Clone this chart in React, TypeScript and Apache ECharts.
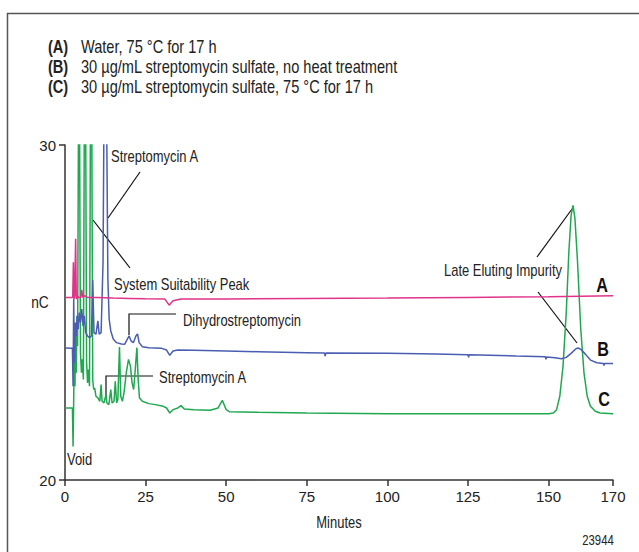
import React, { useEffect, useRef } from "react";
import * as echarts from "echarts";

const xTicks = [0, 25, 50, 75, 100, 125, 150, 170];
const yTicks = [20, 30];
const seriesNames = ["A", "B", "C"];
const legendKeys = ["(A)", "(B)", "(C)"];
const legendTexts = [
  "Water, 75 °C for 17 h",
  "30 µg/mL streptomycin sulfate, no heat treatment",
  "30 µg/mL streptomycin sulfate, 75 °C for 17 h",
];

const traceA: [number, number][] = [
  [0, 25.45], [2.4, 25.45], [2.6, 26.5], [2.8, 25.4], [3.0, 25.5], [3.3, 27.2], [3.5, 25.4],
  [3.8, 25.5], [4.3, 25.45], [4.9, 25.45], [5.2, 25.68], [5.5, 25.45], [6.0, 25.5], [7, 25.45],
  [10, 25.45], [15, 25.43], [20, 25.42], [25, 25.41], [31, 25.4], [32.3, 25.22], [33.5, 25.35],
  [36, 25.4], [50, 25.4], [75, 25.42], [100, 25.43], [125, 25.45], [150, 25.47], [170, 25.5],
];

const traceB: [number, number][] = [
  [0, 23.94], [2.3, 23.93], [2.5, 22.8], [2.7, 25.4], [2.9, 23.5], [3.2, 24.7], [3.5, 24.3],
  [3.8, 24.9], [4.1, 24.5], [4.4, 25.0], [4.8, 24.7], [5.2, 25.1], [5.6, 24.6], [6.0, 24.9],
  [6.4, 24.4], [7.0, 24.3], [7.6, 24.25], [8.2, 24.3], [8.6, 25.97], [9.0, 24.4], [9.6, 24.35],
  [10.2, 24.75], [10.6, 24.35], [11.2, 24.4], [11.8, 26.5], [12.1, 31], [12.5, 32], [12.9, 31],
  [13.3, 26], [13.7, 24.8], [14.2, 24.45], [15, 24.2], [16, 24.1], [17.5, 24.06], [18.5, 24.05],
  [19.3, 24.2], [19.9, 24.3], [20.5, 24.15], [21.2, 24.1], [22.0, 24.3], [22.5, 24.36], [23.0, 24.1],
  [24, 23.98], [26, 23.95], [30, 23.93], [31.5, 23.88], [32.5, 23.72], [33.5, 23.85], [35, 23.88],
  [40, 23.87], [50, 23.85], [60, 23.83], [75, 23.8], [80.5, 23.79], [80.7, 23.7], [80.9, 23.79],
  [100, 23.78], [115, 23.76], [125, 23.74], [125.2, 23.66], [125.4, 23.74], [140, 23.7],
  [149, 23.68], [149.2, 23.6], [149.4, 23.67], [152, 23.65], [154, 23.62], [155.5, 23.66],
  [157, 23.78], [158.5, 23.92], [159.2, 23.94], [160, 23.9], [161.5, 23.75], [163, 23.58],
  [165, 23.5], [167, 23.48], [167.2, 23.42], [167.4, 23.48], [170, 23.48],
];

const traceC: [number, number][] = [
  [0, 22.15], [2.3, 22.15], [2.5, 21.0], [2.7, 22.4], [2.9, 24.0], [3.1, 22.8], [3.3, 24.6],
  [3.5, 23.2], [3.7, 24.9], [3.9, 24.0], [4.2, 31], [4.5, 31], [4.8, 23.8], [5.1, 23.2],
  [5.4, 23.6], [5.7, 23.0], [6.0, 31], [6.4, 31], [6.7, 23.5], [7.0, 22.9], [7.3, 23.3],
  [7.6, 22.8], [7.9, 31], [8.3, 31], [8.6, 23.0], [8.9, 22.7], [9.2, 22.75], [9.6, 22.5],
  [10.2, 22.45], [10.8, 22.35], [11.2, 22.85], [11.5, 22.35], [12.1, 22.3], [12.7, 22.55],
  [13.0, 22.3], [13.6, 22.25], [14.2, 22.7], [14.6, 22.3], [15.2, 22.35], [15.6, 22.95],
  [16.0, 22.3], [16.4, 22.4], [16.9, 23.97], [17.3, 22.5], [17.8, 22.35], [18.3, 22.6],
  [19.0, 23.2], [19.7, 23.6], [20.3, 23.4], [20.8, 22.9], [21.3, 22.7], [21.8, 23.3],
  [22.3, 23.95], [22.7, 23.0], [23.1, 22.45], [24, 22.35], [26, 22.28], [28, 22.25],
  [30.5, 22.2], [31.5, 22.15], [32.5, 22.0], [33.5, 22.1], [35, 22.15], [36, 22.22],
  [37, 22.12], [40, 22.1], [45, 22.08], [47.5, 22.15], [48.8, 22.38], [50, 22.1], [51, 22.04],
  [60, 22.02], [75, 22.0], [100, 21.98], [125, 21.98], [150, 21.98], [151.5, 22.0],
  [152.5, 22.1], [153.5, 22.5], [154.5, 23.4], [155.5, 25.0], [156.3, 26.8], [157, 27.9],
  [157.6, 28.2], [158.2, 27.8], [159, 26.5], [160, 24.5], [161, 23.2], [162, 22.5],
  [163, 22.2], [164.5, 22.05], [166, 22.0], [170, 21.98],
];

const traces = [traceA, traceB, traceC];
const colors = ["#e0338a", "#4a5db0", "#1fa84f"];

const FONT = "'Liberation Sans', Arial, sans-serif";
const SX = 0.81;

export default function App() {
  const ref = useRef<HTMLDivElement>(null);
  useEffect(() => {
    document.body.style.margin = "0";
    const chart = echarts.init(ref.current!, null, { renderer: "svg" });
    const txt = (x: number, y: number, s: string, extra: any = {}) => ({
      type: "text",
      x,
      y,
      scaleX: SX,
      style: {
        text: s,
        fontFamily: FONT,
        fontSize: 16,
        fill: "#222",
        textVerticalAlign: "middle",
        ...extra,
      },
    });
    const ln = (x1: number, y1: number, x2: number, y2: number) => ({
      type: "line",
      shape: { x1, y1, x2, y2 },
      style: { stroke: "#111", lineWidth: 1.2 },
    });
    const pl = (pts: number[][]) => ({
      type: "polyline",
      shape: { points: pts },
      style: { stroke: "#111", lineWidth: 1.2, fill: "none" },
    });
    const graphics: any[] = [
      {
        type: "rect",
        shape: { x: 7.5, y: 13.5, width: 700, height: 700 },
        style: { fill: "none", stroke: "#555", lineWidth: 1.5 },
      },
    ];
    legendKeys.forEach((k, i) => {
      graphics.push(txt(48, 46 + i * 20, k, { fontWeight: "bold", fontSize: 18 }));
      graphics.push(txt(81, 46 + i * 20, legendTexts[i], { fontSize: 18 }));
    });
    graphics.push(
      txt(111, 157, "Streptomycin A"),
      ln(140, 172, 108, 218),
      txt(114, 285, "System Suitability Peak"),
      ln(93, 220, 130, 268),
      txt(183, 321, "Dihydrostreptomycin"),
      pl([[129, 335], [129, 314], [176, 314]]),
      txt(159, 378, "Streptomycin A"),
      pl([[106, 397], [106, 376], [153, 376]]),
      txt(444, 271, "Late Eluting Impurity"),
      ln(537, 257, 572, 209),
      ln(538, 292, 577, 343),
      txt(67, 460, "Void"),
      txt(339, 523, "Minutes", { textAlign: "center" }),
      txt(598, 540, "23944", { textAlign: "center", fontSize: 14 }),
      txt(40, 302, "nC", { textAlign: "center", fontSize: 17 })
    );
    const labelPos = [
      [602, 285],
      [603, 349],
      [604, 399],
    ];
    seriesNames.forEach((n, i) => {
      graphics.push(
        txt(labelPos[i][0], labelPos[i][1], n, {
          textAlign: "center",
          fontWeight: "bold",
          fontSize: 20,
          fill: "#111",
        })
      );
    });

    chart.setOption({
      animation: false,
      grid: { left: 65, right: 26, top: 145, bottom: 72 },
      xAxis: {
        type: "value",
        min: 0,
        max: 170,
        splitLine: { show: false },
        axisLine: { lineStyle: { color: "#333", width: 1.5 } },
        axisTick: { customValues: xTicks, length: 6, lineStyle: { color: "#333", width: 1.5 } },
        axisLabel: {
          customValues: xTicks,
          margin: 9,
          fontFamily: FONT,
          fontSize: 15,
          color: "#222",
        },
      },
      yAxis: {
        type: "value",
        min: yTicks[0],
        max: yTicks[1],
        interval: yTicks[1] - yTicks[0],
        splitLine: { show: false },
        axisLine: { show: true, lineStyle: { color: "#333", width: 1.5 } },
        axisTick: { show: true, length: 6, lineStyle: { color: "#333", width: 1.5 } },
        axisLabel: {
          margin: 9,
          fontFamily: FONT,
          fontSize: 15,
          color: "#222",
        },
      },
      series: traces.map((d, i) => ({
        type: "line",
        name: seriesNames[i],
        data: d,
        showSymbol: false,
        symbol: "none",
        clip: true,
        lineStyle: { color: colors[i], width: 1.5 },
        z: 3 - i,
      })),
      graphic: graphics,
    });
    return () => chart.dispose();
  }, []);
  return <div ref={ref} style={{ width: 639, height: 552 }} />;
}
